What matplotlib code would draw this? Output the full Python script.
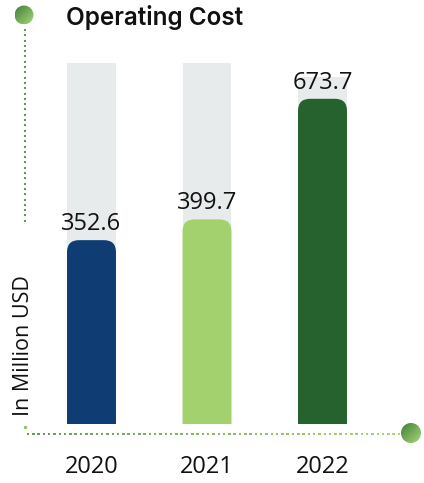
import matplotlib

matplotlib.use("Agg")

import matplotlib.pyplot as plt
import numpy as np
from matplotlib.colors import LinearSegmentedColormap
from matplotlib.patches import Circle, FancyBboxPatch

years = ["2020", "2021", "2022"]
operating_cost = [352.6, 399.7, 673.7]
track_height = [755, 755, 723]
bar_colors = ["#0f3d73", "#a3d16e", "#25622d"]

TRACK_COLOR = "#e8ebec"
BASE = -65  # baseline of the bars, below zero so short bars still show
TOP = 755
BAR_WIDTH = 0.424
CORNER_PX = 12

W, H, DPI = 424, 483, 100
plt.rcParams["font.family"] = ["Open Sans", "DejaVu Sans"]

fig = plt.figure(figsize=(W / DPI, H / DPI), dpi=DPI)
ax_rect = [33.75 / W, 1 - 424 / H, 346.5 / W, 361 / H]
ax = fig.add_axes(ax_rect)
ax.set_xlim(-0.5, len(years) - 0.5)
ax.set_ylim(BASE, TOP)

# pixels per data unit, used to keep the rounded tops circular
px_x = ax_rect[2] * W / (len(years))
px_y = ax_rect[3] * H / (TOP - BASE)
r_x = CORNER_PX / px_x
aspect = (CORNER_PX / px_y) / r_x

x = np.arange(len(years))
ax.bar(x, np.array(track_height) - BASE, bottom=BASE, width=BAR_WIDTH,
       color=TRACK_COLOR, zorder=1)

for xi, val, col in zip(x, operating_cost, bar_colors):
    extra = CORNER_PX / px_y * 2
    patch = FancyBboxPatch(
        (xi - BAR_WIDTH / 2, BASE - extra), BAR_WIDTH, val - BASE + extra,
        boxstyle=f"round,pad=0,rounding_size={r_x}",
        mutation_aspect=aspect, facecolor=col, edgecolor="none", zorder=2,
    )
    ax.add_patch(patch)
    ax.annotate(f"{val:.1f}", (xi, val), xytext=(0, 3),
                textcoords="offset points", ha="center", va="bottom",
                fontsize=17, fontweight="medium", color="#111111", zorder=3)

ax.set_xticks(x, years)
ax.tick_params(axis="x", length=0, pad=22, labelsize=17, labelcolor="#111111")
for lbl in ax.get_xticklabels():
    lbl.set_fontweight("medium")
ax.set_yticks([])
for s in ax.spines.values():
    s.set_visible(False)

# decorations in pixel coordinates
deco = fig.add_axes([0, 0, 1, 1], zorder=5)
deco.patch.set_alpha(0)
deco.axis("off")

greens = LinearSegmentedColormap.from_list("greens", ["#3f7f3a", "#a8d678"])

vy = np.arange(30, 221, 5.3)
deco.scatter(np.full_like(vy, 24.5), vy, s=3, marker="s", color="#5d9c4f",
             linewidths=0)
hx = np.arange(28, 400, 5.3)
deco.scatter(hx, np.full_like(hx, 434), s=3, marker="s",
             c=greens(0.35 + 0.65 * (hx - hx.min()) / (hx.max() - hx.min())),
             linewidths=0)
deco.scatter([24.5], [427], s=6, color="#8cc463", linewidths=0)

grad = np.add.outer(np.linspace(0, 1, 64), np.linspace(0, 1, 64)) / 2
for cx, cy, r in [(24, 15, 9.5), (411, 433, 10)]:
    img = deco.imshow(grad, cmap=greens, extent=(cx - r, cx + r, cy + r, cy - r),
                      aspect="auto", interpolation="bilinear", zorder=6)
    clip = Circle((cx, cy), r, transform=deco.transData)
    img.set_clip_path(clip)

deco.set_xlim(0, W)
deco.set_ylim(H, 0)

fig.text(66 / W, 1 - 17 / H, "Operating Cost", ha="left", va="center",
         fontsize=17.5, fontweight="semibold", family=["Inter", "DejaVu Sans"],
         color="#111111")
fig.text(24 / W, 1 - 346 / H, "In Million USD", rotation=90, ha="center",
         va="center", fontsize=15.5, fontweight="medium", color="#111111")

fig.savefig("out.png", dpi=DPI)
